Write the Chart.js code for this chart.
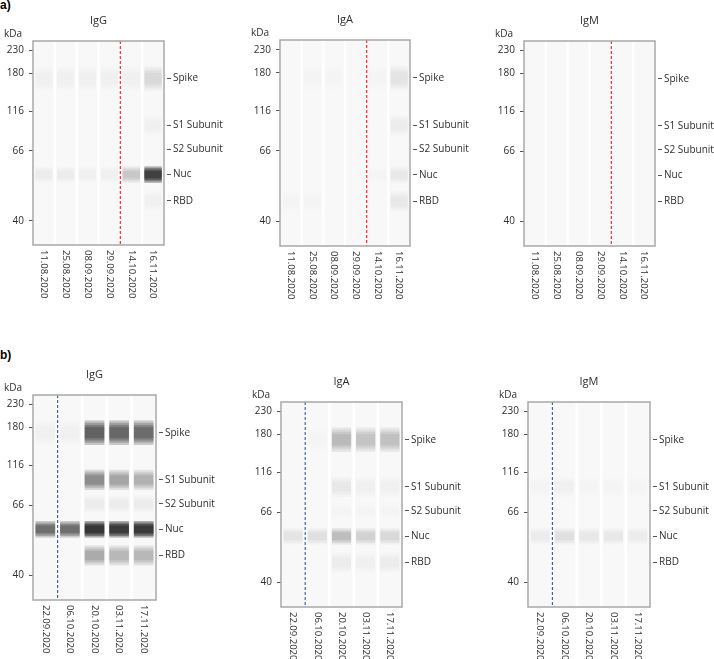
<!DOCTYPE html>
<html>
<head>
<meta charset="utf-8">
<script src="https://cdn.jsdelivr.net/npm/chart.js@4.4.1/dist/chart.umd.min.js"></script>
<style>
html,body{margin:0;padding:0;background:#fff;width:714px;height:659px;overflow:hidden;position:relative;}
canvas{position:absolute;}
.lbl{position:absolute;font:bold 12px "Liberation Sans",Arial,sans-serif;color:#000;}
</style>
</head>
<body>
<div class="lbl" style="left:0px;top:-2px;">a)</div>
<div class="lbl" style="left:0px;top:348px;">b)</div>
<script>
// ---------- DATA ----------
const aLanes = ['11.08.2020','25.08.2020','08.09.2020','29.09.2020','14.10.2020','16.11.2020'];
const bLanes = ['22.09.2020','06.10.2020','20.10.2020','03.11.2020','17.11.2020'];

// ladder (molecular weight marker) and its relative migration (0 = top, 100 = bottom)
const ladderKDa = [230, 180, 116, 66, 40];
const ladderMigration = [4.7, 15.9, 34.4, 53.8, 88.1];

// antigen bands and their relative migration / spread
const bandNames = ['Spike', 'S1 Subunit', 'S2 Subunit', 'Nuc', 'RBD'];
const bandMigration = [18.4, 41.4, 53.1, 65.5, 78.3];
const bandSpread = [4.0, 3.3, 2.7, 2.7, 3.3];

// signal intensity (0 = none, 1 = saturated), rows = bands (Spike, S1, S2, Nuc, RBD), cols = lanes
const aIgG = [
  [0.035, 0.032, 0.03, 0.028, 0.03, 0.12],
  [0, 0, 0, 0, 0.003, 0.03],
  [0, 0, 0, 0, 0, 0.004],
  [0.05, 0.045, 0.038, 0.03, 0.19, 0.74],
  [0, 0, 0, 0, 0, 0.03]
];
const aIgA = [
  [0.005, 0.01, 0.008, 0.003, 0.01, 0.08],
  [0.004, 0.005, 0.004, 0.002, 0.002, 0.04],
  [0, 0, 0, 0, 0, 0.006],
  [0.003, 0.005, 0.003, 0.003, 0.012, 0.065],
  [0.01, 0.01, 0.006, 0.005, 0.006, 0.055]
];
const aIgM = [
  [0, 0, 0, 0, 0, 0.003],
  [0, 0, 0, 0, 0, 0],
  [0, 0, 0, 0, 0, 0],
  [0, 0, 0, 0, 0, 0.003],
  [0, 0, 0, 0, 0, 0]
];
const bIgG = [
  [0.035, 0.035, 0.6, 0.58, 0.56],
  [0.006, 0.006, 0.43, 0.33, 0.28],
  [0, 0, 0.05, 0.04, 0.04],
  [0.55, 0.55, 0.78, 0.76, 0.76],
  [0.006, 0.006, 0.3, 0.26, 0.25]
];
const bIgA = [
  [0.006, 0.02, 0.24, 0.2, 0.21],
  [0.003, 0.006, 0.055, 0.03, 0.035],
  [0, 0, 0.015, 0.01, 0.015],
  [0.08, 0.09, 0.23, 0.15, 0.12],
  [0.006, 0.006, 0.045, 0.03, 0.04]
];
const bIgM = [
  [0, 0.006, 0.006, 0.006, 0.006],
  [0.018, 0.035, 0.014, 0.014, 0.01],
  [0, 0, 0, 0, 0],
  [0.045, 0.09, 0.055, 0.055, 0.04],
  [0, 0, 0, 0, 0]
];

// ---------- LAYOUT ----------
const panels = [
  {title:'IgG', lanes:aLanes, signal:aIgG, sep:3, sepColor:'#ff2a2a', L:33,  T:41,  W:131, H:204},
  {title:'IgA', lanes:aLanes, signal:aIgA, sep:3, sepColor:'#ff2a2a', L:280, T:40,  W:130, H:206},
  {title:'IgM', lanes:aLanes, signal:aIgM, sep:3, sepColor:'#ff2a2a', L:524, T:41,  W:131, H:205},
  {title:'IgG', lanes:bLanes, signal:bIgG, sep:0, sepColor:'#3d5fb5', L:33,  T:395, W:123, H:205},
  {title:'IgA', lanes:bLanes, signal:bIgA, sep:0, sepColor:'#3d5fb5', L:281, T:402, W:121, H:205},
  {title:'IgM', lanes:bLanes, signal:bIgM, sep:0, sepColor:'#3d5fb5', L:528, T:402, W:122, H:205}
];
const LM = 34, RM = 72, TM = 40, BM = 62;
const FONT = '"Open Sans", "Noto Sans", sans-serif';
const TXT = '#2e2e2e';
const layerScale = [1.5, 1.22, 0.95, 0.68];

const gelPlugin = {
  id: 'gel',
  afterDatasetsDraw(chart) {
    const p = chart.options.plugins.gel;
    const ctx = chart.ctx, a = chart.chartArea, x = chart.scales.x;
    ctx.save();
    // separator
    const xs = (x.getPixelForValue(p.sep) + x.getPixelForValue(p.sep + 1)) / 2;
    ctx.strokeStyle = p.sepColor; ctx.lineWidth = 1.2; ctx.setLineDash([3, 2]);
    ctx.beginPath(); ctx.moveTo(xs, a.top); ctx.lineTo(xs, a.bottom); ctx.stroke();
    // frame
    ctx.setLineDash([]); ctx.strokeStyle = '#a8a8a8'; ctx.lineWidth = 1.5;
    ctx.strokeRect(a.left, a.top, a.right - a.left, a.bottom - a.top);
    // title
    ctx.fillStyle = TXT; ctx.font = '11px ' + FONT; ctx.textAlign = 'center'; ctx.textBaseline = 'middle';
    ctx.fillText(p.title, (a.left + a.right) / 2, a.top - 20);
    // kDa
    ctx.font = '10px ' + FONT; ctx.textAlign = 'right';
    ctx.fillText('kDa', a.left - 11, a.top - 7);
    // lane labels, rotated clockwise
    ctx.font = '9.5px ' + FONT; ctx.textAlign = 'left';
    chart.data.labels.forEach((lab, i) => {
      const px = x.getPixelForValue(i);
      ctx.save(); ctx.translate(px, a.bottom + 5); ctx.rotate(Math.PI / 2);
      ctx.fillText(lab, 0, 0); ctx.restore();
    });
    ctx.restore();
  }
};

function yAxis(position, ticksVals, labels, width) {
  return {
    type: 'linear', position: position, reverse: true, min: 0, max: 100,
    border: {display: false},
    grid: {drawOnChartArea: false, drawTicks: true, tickLength: 7, tickWidth: 1, tickColor: '#555',
           tickBorderDash: [4, 3], tickBorderDashOffset: 4},
    ticks: {font: {family: FONT, size: 10}, color: TXT, padding: 2, autoSkip: false,
            callback: (v, i) => labels[i]},
    afterBuildTicks: s => { s.ticks = ticksVals.map(v => ({value: v})); },
    afterFit: s => { s.width = width; s.paddingTop = 0; s.paddingBottom = 0; }
  };
}

panels.forEach(p => {
  const cv = document.createElement('canvas');
  const w = p.W + LM + RM, h = p.H + TM + BM;
  cv.width = w; cv.height = h;
  cv.style.left = (p.L - LM) + 'px'; cv.style.top = (p.T - TM) + 'px';
  cv.style.width = w + 'px'; cv.style.height = h + 'px';
  document.body.appendChild(cv);

  const datasets = [{
    data: p.lanes.map(() => [0, 100]),
    backgroundColor: '#f8f8f8', barPercentage: 0.9, categoryPercentage: 1, grouped: false, order: 10
  }];
  bandNames.forEach((name, b) => {
    layerScale.forEach(k => {
      const hw = bandSpread[b] * k;
      datasets.push({
        data: p.lanes.map(() => [bandMigration[b] - hw, bandMigration[b] + hw]),
        backgroundColor: p.signal[b].map(d => 'rgba(0,0,0,' + (1 - Math.pow(1 - d, 1 / layerScale.length)).toFixed(4) + ')'),
        barPercentage: 0.8, categoryPercentage: 1, grouped: false, order: 1
      });
    });
  });

  new Chart(cv, {
    type: 'bar',
    data: {labels: p.lanes, datasets: datasets},
    options: {
      responsive: false, animation: false, devicePixelRatio: 1,
      layout: {padding: {top: TM, bottom: BM, left: 0, right: 0}},
      plugins: {legend: {display: false}, tooltip: {enabled: false},
                gel: {title: p.title, sep: p.sep, sepColor: p.sepColor}},
      scales: {
        x: {type: 'category', display: false, offset: true},
        y: yAxis('left', ladderMigration, ladderKDa, LM),
        y2: yAxis('right', bandMigration, bandNames, RM)
      }
    },
    plugins: [gelPlugin]
  });
});
</script>
</body>
</html>
